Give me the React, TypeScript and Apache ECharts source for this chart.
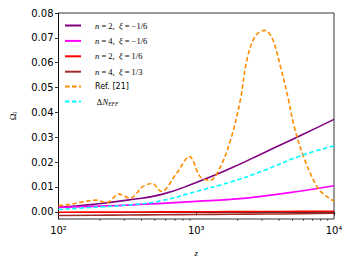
import React, { useEffect, useRef } from "react";
import * as echarts from "echarts";

const zGrid = [100, 178, 316, 562, 1000, 1778, 3162, 5623, 10000];
const purpleVals = [0.0018, 0.003, 0.0047, 0.007, 0.0118, 0.0175, 0.024, 0.0305, 0.0372];
const magentaVals = [0.0017, 0.0022, 0.0027, 0.0034, 0.0042, 0.005, 0.0064, 0.0083, 0.0105];
const redVals = [-0.0002, -0.00015, -0.0001, -0.00005, 0.0, 0.00005, 0.0001, 0.00015, 0.0002];
const brownVals = [-0.0015, -0.0014, -0.0013, -0.0012, -0.0011, -0.001, -0.0009, -0.0008, -0.0006];
const cyanVals = [0.0009, 0.0018, 0.0027, 0.0045, 0.0082, 0.012, 0.0168, 0.0224, 0.0265];

const zRef = [100, 120, 148, 188, 224, 275, 331, 407, 479, 556, 724, 891, 1072, 1259, 1479, 1778, 2089, 2344, 2692, 3126, 3548, 4074, 4677, 5129, 6026, 7586, 8913, 10000];
const refVals = [0.0025, 0.003, 0.0039, 0.0047, 0.0037, 0.0071, 0.0055, 0.01, 0.0114, 0.0082, 0.0157, 0.0222, 0.014, 0.0127, 0.0175, 0.029, 0.045, 0.0617, 0.0708, 0.073, 0.07, 0.0587, 0.045, 0.0345, 0.022, 0.0098, 0.006, 0.0043];

const yTicks = [0, 0.01, 0.02, 0.03, 0.04, 0.05, 0.06, 0.07, 0.08];
const minorX = [200, 300, 400, 500, 600, 700, 800, 900, 2000, 3000, 4000, 5000, 6000, 7000, 8000, 9000];

const Y_MIN = -0.0029;
const Y_MAX = 0.08;

const pairs = (xs: number[], ys: number[]) => xs.map((x, i) => [x, ys[i]]);

const mathRich = {
  i: { fontFamily: "Liberation Serif", fontStyle: "italic", fontSize: 8.5, color: "#000" },
  r: { fontFamily: "Liberation Serif", fontSize: 8.5, color: "#000" },
  s: { fontFamily: "DejaVu Sans", fontSize: 8, color: "#000" },
  sub: { fontFamily: "Liberation Serif", fontStyle: "italic", fontSize: 5.5, color: "#000", padding: [4, 0, 0, 0] },
};

const legendText: Record<string, string> = {
  "n=2, xi=-1/6": "{i|n}{r| = 2,  }{i|ξ}{r| = −1/6}",
  "n=4, xi=-1/6": "{i|n}{r| = 4,  }{i|ξ}{r| = −1/6}",
  "n=2, xi=1/6": "{i|n}{r| = 2,  }{i|ξ}{r| = 1/6}",
  "n=4, xi=1/3": "{i|n}{r| = 4,  }{i|ξ}{r| = 1/3}",
  "Ref. [21]": "{s|Ref. [21]}",
  "DeltaN_EFF": "{r| Δ}{i|N}{sub|EFF}",
};

export default function App() {
  const ref = useRef<HTMLDivElement>(null);
  useEffect(() => {
    if (!ref.current) return;
    const chart = echarts.init(ref.current, null, { renderer: "svg" });
    const line = (name: string, xs: number[], ys: number[], color: string, dashed = false, smooth: number | boolean = true) => ({
      name,
      type: "line",
      data: pairs(xs, ys),
      symbol: "none",
      showSymbol: false,
      smooth,
      lineStyle: { color, width: 1.6, type: dashed ? [4.5, 2.5] : "solid" },
      itemStyle: { color },
      z: 3,
    });
    chart.setOption({
      animation: false,
      grid: { left: 58, top: 13, right: 19, bottom: 46, show: true, borderColor: "#000", borderWidth: 0.8, backgroundColor: "transparent" },
      legend: {
        left: 62,
        top: 19,
        orient: "vertical",
        itemWidth: 16,
        itemHeight: 7,
        itemGap: 6.4,
        padding: 2,
        itemStyle: { opacity: 0, color: "transparent", borderWidth: 0 },
        formatter: (n: string) => legendText[n] || n,
        textStyle: { rich: mathRich, padding: [0, 0, 0, 9] },
        data: ["n=2, xi=-1/6", "n=4, xi=-1/6", "n=2, xi=1/6", "n=4, xi=1/3", "Ref. [21]", "DeltaN_EFF"],
      },
      xAxis: {
        type: "log",
        logBase: 10,
        min: 100,
        max: 10000,
        name: "z",
        nameLocation: "middle",
        nameGap: 29,
        nameTextStyle: { fontFamily: "Liberation Serif", fontStyle: "italic", fontSize: 9, color: "#000" },
        axisLine: { lineStyle: { color: "#000", width: 0.8 } },
        axisTick: { show: true, length: 3.5, inside: false, lineStyle: { color: "#000", width: 0.8 } },
        axisLabel: {
          color: "#000",
          fontFamily: "DejaVu Sans",
          fontSize: 10,
          margin: 6,
          formatter: (v: number) => {
            const e = Math.round(Math.log10(v));
            const sup: Record<number, string> = { 2: "²", 3: "³", 4: "⁴" };
            return "10" + (sup[e] || "");
          },
        },
        splitLine: { show: false },
      },
      yAxis: {
        type: "value",
        min: Y_MIN,
        max: Y_MAX,
        name: "{a|Ω}{b|i}",
        nameLocation: "middle",
        nameGap: 41,
        nameRotate: 90,
        nameTextStyle: {
          rich: {
            a: { fontFamily: "Liberation Serif", fontSize: 9, color: "#000" },
            b: { fontFamily: "Liberation Serif", fontStyle: "italic", fontSize: 6, color: "#000", padding: [4, 0, 0, 0] },
          },
        },
        axisLine: { show: true, lineStyle: { color: "#000", width: 0.8 } },
        axisTick: { show: true, length: 3.5, customValues: yTicks, lineStyle: { color: "#000", width: 0.8 } },
        axisLabel: {
          color: "#000",
          fontFamily: "DejaVu Sans",
          fontSize: 10,
          margin: 5,
          customValues: yTicks,
          formatter: (v: number) => v.toFixed(2),
        },
        splitLine: { show: false },
      },
      series: [
        line("n=2, xi=-1/6", zGrid, purpleVals, "#800080"),
        line("n=4, xi=-1/6", zGrid, magentaVals, "#ff00ff"),
        line("n=2, xi=1/6", zGrid, redVals, "#ff0000"),
        line("n=4, xi=1/3", zGrid, brownVals, "#a52a2a"),
        line("Ref. [21]", zRef, refVals, "#ff8c00", true, 0.35),
        line("DeltaN_EFF", zGrid, cyanVals, "#00ffff", true),
      ],
    });
    const yb = chart.convertToPixel({ yAxisIndex: 0 }, Y_MIN) as number;
    const minorLines = minorX.map((z) => {
      const x = chart.convertToPixel({ xAxisIndex: 0 }, z) as number;
      return {
        type: "line",
        shape: { x1: x, y1: yb, x2: x, y2: yb + 2 },
        style: { stroke: "#000", lineWidth: 0.6 },
        silent: true,
      };
    });
    chart.setOption({ graphic: minorLines });
    return () => chart.dispose();
  }, []);
  return <div ref={ref} style={{ width: 353, height: 265, position: "absolute", left: 0, top: 0 }} />;
}
